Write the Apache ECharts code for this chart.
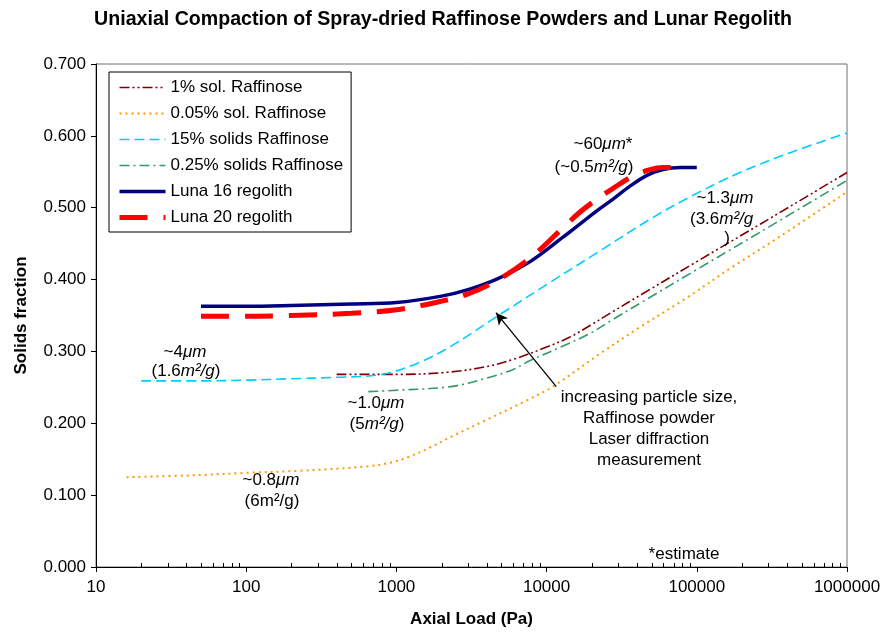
<!DOCTYPE html>
<html>
<head>
<meta charset="utf-8">
<script src="https://cdn.jsdelivr.net/npm/echarts@6/dist/echarts.min.js"></script>
<style>
  html, body { margin: 0; padding: 0; background: #ffffff; }
  #chart { width: 886px; height: 637px; }
</style>
</head>
<body>
<div id="chart"></div>
<script>
// Solids fraction vs. axial load (Pa) for four raffinose powders and two lunar regoliths
const FONT = '"Liberation Sans", Arial, Helvetica, sans-serif';

const xTickLabels = [10, 100, 1000, 10000, 100000, 1000000];
const yTickLabels = [0, 0.1, 0.2, 0.3, 0.4, 0.5, 0.6, 0.7];

const sol1Raffinose = [
  [400, 0.268], [1000, 0.268], [2200, 0.271], [4000, 0.279], [6000, 0.289],
  [10000, 0.306], [14300, 0.320], [19450, 0.336], [26400, 0.353], [45900, 0.383],
  [100000, 0.425], [264000, 0.477], [1000000, 0.549]
];
const sol005Raffinose = [
  [16, 0.125], [50, 0.128], [100, 0.131], [230, 0.134], [640, 0.140],
  [900, 0.145], [1200, 0.153], [1700, 0.167], [2300, 0.181], [4000, 0.205],
  [7400, 0.232], [11000, 0.251], [22700, 0.297], [41900, 0.334], [82000, 0.372],
  [174000, 0.418], [358000, 0.460], [1000000, 0.522]
];
const solids15Raffinose = [
  [20, 0.259], [50, 0.259], [100, 0.260], [200, 0.262], [400, 0.264],
  [800, 0.268], [1400, 0.284], [2300, 0.307], [4700, 0.349], [10000, 0.393],
  [22700, 0.440], [48800, 0.484], [90000, 0.515], [194000, 0.549],
  [437000, 0.578], [1000000, 0.604]
];
const solids025Raffinose = [
  [650, 0.244], [1000, 0.246], [2300, 0.251], [4000, 0.263], [6000, 0.275],
  [7700, 0.287], [12400, 0.306], [19450, 0.325], [26400, 0.342], [45900, 0.372],
  [100000, 0.414], [264000, 0.466], [1000000, 0.538]
];
const luna16 = [
  [50, 0.363], [100, 0.363], [200, 0.364], [500, 0.366], [1000, 0.368],
  [2000, 0.377], [3000, 0.386], [4700, 0.401], [7770, 0.425], [12850, 0.459],
  [21700, 0.496], [27700, 0.512], [35900, 0.530], [46600, 0.545], [59600, 0.553],
  [77300, 0.556], [100000, 0.556]
];
const luna20 = [
  [50, 0.349], [100, 0.349], [200, 0.350], [500, 0.353], [1000, 0.358],
  [2000, 0.370], [3000, 0.380], [4700, 0.399], [7770, 0.430], [12850, 0.472],
  [16700, 0.494], [21700, 0.512], [27700, 0.527], [37600, 0.544], [48800, 0.553],
  [59600, 0.556], [77000, 0.556]
];

// minor tick positions 2..9 within each decade of the load axis
const minorTicks = [];
for (let d = 10; d < 1000000; d *= 10) {
  for (let m = 2; m <= 9; m++) minorTicks.push([m * d, 0]);
}

const chart = echarts.init(document.getElementById('chart'), null, { renderer: 'canvas' });

function curve(name, data, color, width, dash) {
  return {
    name: name,
    type: 'line',
    data: data,
    smooth: 0.35,
    symbol: 'none',
    showSymbol: false,
    lineStyle: { color: color, width: width, type: dash, cap: 'butt' },
    itemStyle: { color: color },
    emphasis: { disabled: true },
    z: 3
  };
}

const rich = {
  i: { fontFamily: FONT, fontSize: 17, fontStyle: 'italic', color: '#000' }
};
function note(text, x, y, align) {
  return {
    type: 'text',
    x: x, y: y,
    silent: true,
    style: {
      text: text,
      font: '17px ' + FONT,
      fill: '#000',
      align: align || 'center',
      verticalAlign: 'middle',
      rich: rich
    },
    z: 10
  };
}

const option = {
  backgroundColor: '#ffffff',
  animation: false,
  title: {
    text: 'Uniaxial Compaction of Spray-dried Raffinose Powders and Lunar Regolith',
    left: 'center',
    top: 5,
    textStyle: { fontFamily: FONT, fontSize: 19.6, fontWeight: 'bold', color: '#000' }
  },
  grid: {
    left: 96, right: 39, top: 64, bottom: 70,
    show: true, borderColor: '#6f6f6f', borderWidth: 1, backgroundColor: 'transparent'
  },
  legend: {
    orient: 'vertical',
    left: 109, top: 72,
    padding: [7, 8, 6, 8],
    backgroundColor: '#ffffff',
    borderColor: '#000',
    borderWidth: 1,
    itemWidth: 46, itemHeight: 14, itemGap: 9, itemTextGap: 8,
    textStyle: { fontFamily: FONT, fontSize: 17, color: '#000', lineHeight: 17 },
    lineStyle: { width: 'inherit' },
    itemStyle: { opacity: 0, borderWidth: 0 },
    selectedMode: false,
    data: ['1% sol. Raffinose', '0.05% sol. Raffinose', '15% solids Raffinose',
           '0.25% solids Raffinose', 'Luna 16 regolith', 'Luna 20 regolith']
  },
  xAxis: {
    type: 'log',
    logBase: 10,
    min: xTickLabels[0],
    max: xTickLabels[xTickLabels.length - 1],
    name: 'Axial Load (Pa)',
    nameLocation: 'middle',
    nameGap: 44,
    nameTextStyle: { fontFamily: FONT, fontSize: 17, fontWeight: 'bold', color: '#000' },
    axisLine: { show: true, onZero: false, lineStyle: { color: '#000', width: 1 } },
    axisTick: { show: true, inside: false, length: 5, lineStyle: { color: '#000' } },
    axisLabel: {
      margin: 12, fontFamily: FONT, fontSize: 17, color: '#000',
      formatter: v => String(Math.round(v))
    },
    splitLine: { show: false }
  },
  yAxis: {
    type: 'value',
    min: yTickLabels[0],
    max: yTickLabels[yTickLabels.length - 1],
    interval: 0.1,
    name: 'Solids fraction',
    nameLocation: 'middle',
    nameGap: 66,
    nameTextStyle: { fontFamily: FONT, fontSize: 17, fontWeight: 'bold', color: '#000' },
    axisLine: { show: true, lineStyle: { color: '#000', width: 1 } },
    axisTick: { show: true, inside: false, length: 5, lineStyle: { color: '#000' } },
    axisLabel: {
      margin: 10, fontFamily: FONT, fontSize: 17, color: '#000',
      formatter: v => v.toFixed(3)
    },
    splitLine: { show: false }
  },
  series: [
    curve('1% sol. Raffinose', sol1Raffinose, '#800000', 1.6, [10, 3, 2, 3, 2, 3]),
    curve('0.05% sol. Raffinose', sol005Raffinose, '#FF9900', 2, [2, 4]),
    Object.assign(curve('15% solids Raffinose', solids15Raffinose, '#00CCFF', 1.6, [10, 5]), {
      markLine: {
        silent: true,
        symbol: ['none', 'arrow'],
        symbolSize: [9, 12],
        label: { show: false },
        lineStyle: { color: '#000', width: 1.3, type: 'solid' },
        data: [[{ coord: [11600, 0.251] }, { coord: [4600, 0.354] }]]
      }
    }),
    curve('0.25% solids Raffinose', solids025Raffinose, '#339966', 1.6, [10, 4, 2, 4]),
    curve('Luna 16 regolith', luna16, '#000080', 3.5, 'solid'),
    curve('Luna 20 regolith', luna20, '#FF0000', 5, [28, 16]),
    {
      name: 'minor ticks',
      type: 'custom',
      data: minorTicks,
      silent: true,
      clip: false,
      encode: { x: 0, y: 1 },
      renderItem: function (params, api) {
        const p = api.coord([api.value(0), api.value(1)]);
        const x = Math.round(p[0]) + 0.5;
        return {
          type: 'line',
          shape: { x1: x, y1: p[1], x2: x, y2: p[1] - 4 },
          style: { stroke: '#000', lineWidth: 1 }
        };
      },
      z: 4
    }
  ],
  graphic: [
    note('~60{i|μm}*', 603, 144),
    note('(~0.5{i|m²/g})', 594, 167),
    note('~1.3{i|μm}', 725, 198),
    note('(3.6{i|m²/g}', 690, 219, 'left'),
    note(')', 727, 238),
    note('~4{i|μm}', 185, 352),
    note('(1.6{i|m²/g})', 186, 371),
    note('~1.0{i|μm}', 376, 403),
    note('(5{i|m²/g})', 377, 424),
    note('~0.8{i|μm}', 271, 480),
    note('(6m²/g)', 272, 501),
    note('increasing particle size,', 649, 397),
    note('Raffinose powder', 649, 418),
    note('Laser diffraction', 649, 439),
    note('measurement', 649, 460),
    note('*estimate', 684, 554)
  ]
};

chart.setOption(option);
</script>
</body>
</html>
